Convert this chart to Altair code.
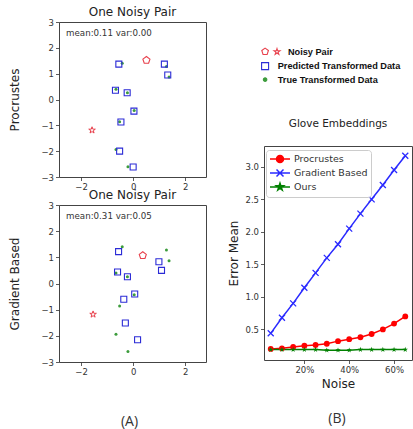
import altair as alt
import pandas as pd

# ---------------- data ----------------
# true transformed points (shared by both panels)
true_x = [-0.42, 1.28, 1.38, -0.66, -0.22, 0.04, -0.52, -0.66, -0.20]
true_y = [1.40, 1.28, 0.87, 0.40, 0.26, -0.43, -0.86, -1.94, -2.60]

# predicted transformed points
proc_pred_x = [-0.55, 1.20, 1.33, -0.68, -0.23, 0.03, -0.47, -0.52, 0.00]
proc_pred_y = [1.37, 1.37, 0.95, 0.36, 0.26, -0.45, -0.87, -2.00, -2.61]
grad_pred_x = [-0.56, 0.99, 1.09, -0.60, -0.22, 0.06, -0.36, -0.30, 0.17]
grad_pred_y = [1.22, 0.83, 0.50, 0.44, 0.26, -0.40, -0.60, -1.51, -2.15]

# noisy pair: [predicted (pentagon), source (star)]
proc_noisy_x = [0.51, -1.58]
proc_noisy_y = [1.52, -1.19]
grad_noisy_x = [0.37, -1.54]
grad_noisy_y = [1.07, -1.18]

proc_stat = "mean:0.11 var:0.00"
grad_stat = "mean:0.31 var:0.05"

# error mean vs noise
noise = [5, 10, 15, 20, 25, 30, 35, 40, 45, 50, 55, 60, 65]
procrustes_err = [0.20, 0.21, 0.23, 0.25, 0.26, 0.28, 0.32, 0.35, 0.38, 0.43, 0.50, 0.59, 0.70]
gradient_err = [0.44, 0.68, 0.90, 1.14, 1.37, 1.60, 1.81, 2.05, 2.28, 2.50, 2.72, 2.95, 3.17]
ours_err = [0.19, 0.19, 0.19, 0.19, 0.19, 0.18, 0.18, 0.18, 0.19, 0.19, 0.19, 0.19, 0.19]

methods = ["Procrustes", "Gradient Based", "Ours"]
# the first entry carries two glyphs, so its label is pushed right
kinds = ["\u200b\u00a0\u00a0\u00a0\u00a0Noisy Pair", "Predicted Transformed Data", "True Transformed Data"]

# ---------------- styles ----------------
RED = "#e8404c"
BLUE = "#2b2bd6"
GREEN = "#3c9c3c"
LINE_COLORS = ["#ff0000", "#2a2aff", "#008000"]


def fmt(v):
    return f"{v:.3f}".rstrip("0").rstrip(".")


def star_path(cx=0.0, cy=0.0, r=1.0):
    import math
    pts = []
    for k in range(10):
        ang = math.radians(-90 + 36 * k)
        rr = r if k % 2 == 0 else r * 0.382
        pts.append((cx + rr * math.cos(ang), cy + rr * math.sin(ang)))
    return "M" + "L".join(f"{fmt(x)},{fmt(y)}" for x, y in pts) + "Z"


def pent_path(cx=0.0, cy=0.0, r=1.0):
    import math
    pts = []
    for k in range(5):
        ang = math.radians(-90 + 72 * k)
        pts.append((cx + r * math.cos(ang), cy + r * math.sin(ang)))
    return "M" + "L".join(f"{fmt(x)},{fmt(y)}" for x, y in pts) + "Z"


def circle_path(cx, r):
    return (f"M{fmt(cx - r)},0A{fmt(r)},{fmt(r)},0,1,0,{fmt(cx + r)},0"
            f"A{fmt(r)},{fmt(r)},0,1,0,{fmt(cx - r)},0Z")


PENT = pent_path()
STAR = star_path()
XMARK = "M-1,-1L1,1M-1,1L1,-1"

# legend glyphs for the scatter legend
NOISY_SYM = pent_path() + star_path(3.4, 0.05, 0.9)
SQUARE_SYM = "M-1,-1L1,-1L1,1L-1,1Z"
DOT_SYM = circle_path(0, 0.5)

# legend glyphs for the line chart (line segment + marker)
LEG_CIRCLE = "M-2,0L2,0" + circle_path(0, 0.7)
LEG_X = "M-2,0L2,0M-0.7,-0.7L0.7,0.7M-0.7,0.7L0.7,-0.7"
LEG_STAR = "M-2,0L2,0" + star_path(0, 0, 0.75)

X_SCALE = alt.Scale(domain=[-2.85, 2.8], nice=False, zero=False)
Y_SCALE = alt.Scale(domain=[-3, 3], nice=False, zero=False)

true_df = pd.DataFrame({"x": true_x, "y": true_y})


def scatter_panel(pred_x, pred_y, nx, ny, stat, ytitle, x_axis, height):
    pred_df = pd.DataFrame({"x": pred_x, "y": pred_y})
    pent_df = pd.DataFrame({"x": nx[:1], "y": ny[:1]})
    star_df = pd.DataFrame({"x": nx[1:], "y": ny[1:]})
    stat_df = pd.DataFrame({"stat": [stat]})

    y_axis = alt.Axis(values=[-3, -2, -1, 0, 1, 2, 3], title=ytitle, titlePadding=19)
    xenc = alt.X("x:Q", scale=X_SCALE, axis=x_axis)
    yenc = alt.Y("y:Q", scale=Y_SCALE, axis=y_axis)

    true_layer = alt.Chart(true_df).mark_circle(size=9, color=GREEN, opacity=1).encode(x=xenc, y=yenc)
    pred_layer = alt.Chart(pred_df).mark_point(
        shape="square", size=36, filled=False, color=BLUE, strokeWidth=1.1, opacity=1
    ).encode(x=xenc, y=yenc)
    pent_layer = alt.Chart(pent_df).mark_point(
        shape=PENT, size=55, filled=False, color=RED, strokeWidth=1.1, opacity=1
    ).encode(x=xenc, y=yenc)
    star_layer = alt.Chart(star_df).mark_point(
        shape=STAR, size=48, filled=False, color=RED, strokeWidth=1.0, opacity=1
    ).encode(x=xenc, y=yenc)
    stat_layer = alt.Chart(stat_df).mark_text(
        align="left", baseline="middle", font="DejaVu Sans", fontSize=8.7, color="#333"
    ).encode(x=alt.value(7), y=alt.value(11), text="stat:N")

    return alt.layer(true_layer, pred_layer, pent_layer, star_layer, stat_layer).properties(
        width=147, height=height,
        title=alt.TitleParams("One Noisy Pair", fontSize=12, offset=-1),
    )


top_panel = scatter_panel(
    proc_pred_x, proc_pred_y, proc_noisy_x, proc_noisy_y, proc_stat, "Procrustes",
    alt.Axis(values=[-2, 0, 2], title=None), 155,
)
bottom_panel = scatter_panel(
    grad_pred_x, grad_pred_y, grad_noisy_x, grad_noisy_y, grad_stat, "Gradient Based",
    alt.Axis(values=[-2, 0, 2], title="(A)", titleFont="Open Sans", titleFontSize=14,
             titleColor="#333", titlePadding=38, titleX=70),
    157,
)

left_col = alt.vconcat(top_panel, bottom_panel, spacing=28, bounds="flush")

# ---------------- scatter legend ----------------
kinds_df = pd.DataFrame({"kind": kinds})
kind_legend = alt.Legend(
    title=None, orient="none", legendX=-3.5, legendY=25, padding=0,
    symbolSize=49, symbolStrokeWidth=1.1, rowPadding=2.5, labelOffset=8,
    labelFont="Liberation Sans", labelFontSize=9.2, labelFontWeight="bold", labelColor="#111",
)
legend_view = alt.Chart(kinds_df).mark_point(opacity=1).encode(
    shape=alt.Shape("kind:N", scale=alt.Scale(domain=kinds, range=[NOISY_SYM, SQUARE_SYM, DOT_SYM]),
                    legend=kind_legend),
    stroke=alt.Stroke("kind:N", scale=alt.Scale(domain=kinds, range=[RED, BLUE, GREEN]),
                      legend=kind_legend),
    fill=alt.Fill("kind:N", scale=alt.Scale(domain=kinds, range=["transparent", "transparent", GREEN]),
                  legend=kind_legend),
).transform_filter("false").properties(
    width=148, height=80, view=alt.ViewBackground(stroke="transparent")
)

# ---------------- error curves ----------------
err_df = pd.DataFrame({
    "noise": noise * 3,
    "err": procrustes_err + gradient_err + ours_err,
    "method": [methods[0]] * len(noise) + [methods[1]] * len(noise) + [methods[2]] * len(noise),
})

nx_enc = alt.X("noise:Q", scale=alt.Scale(domain=[2, 68], nice=False, zero=False),
               axis=alt.Axis(values=[20, 40, 60], labelExpr="datum.value + '%'",
                             title="Noise", titlePadding=4))
ny_enc = alt.Y("err:Q", scale=alt.Scale(domain=[0.03, 3.32], nice=False, zero=False),
               axis=alt.Axis(values=[0.5, 1.0, 1.5, 2.0, 2.5, 3.0], format=".1f",
                             title="Error Mean", titlePadding=4))

lines = alt.Chart(err_df).mark_line(strokeWidth=1.5).encode(
    x=nx_enc, y=ny_enc,
    color=alt.Color("method:N", scale=alt.Scale(domain=methods, range=LINE_COLORS), legend=None),
)
pts_red = alt.Chart(err_df).transform_filter(alt.datum.method == methods[0]).mark_point(
    shape="circle", size=34, filled=True, color=LINE_COLORS[0], opacity=1
).encode(x=nx_enc, y=ny_enc)
pts_blue = alt.Chart(err_df).transform_filter(alt.datum.method == methods[1]).mark_point(
    shape=XMARK, size=36, filled=False, color=LINE_COLORS[1], strokeWidth=1.3, opacity=1
).encode(x=nx_enc, y=ny_enc)
pts_green = alt.Chart(err_df).transform_filter(alt.datum.method == methods[2]).mark_point(
    shape=STAR, size=32, filled=True, color=LINE_COLORS[2], opacity=1
).encode(x=nx_enc, y=ny_enc)

method_legend = alt.Legend(
    title=None, orient="none", legendX=2, legendY=4, padding=3,
    symbolSize=100, symbolStrokeWidth=1.5, symbolOffset=5, rowPadding=0, labelOffset=8,
    labelFont="DejaVu Sans", labelFontSize=9.5, labelColor="#333",
    strokeColor="#cccccc", fillColor="rgba(255,255,255,0.85)", cornerRadius=3,
)
method_df = pd.DataFrame({"method": methods})
legend_layer = alt.Chart(method_df).mark_point(opacity=1).encode(
    shape=alt.Shape("method:N", scale=alt.Scale(domain=methods, range=[LEG_CIRCLE, LEG_X, LEG_STAR]),
                    legend=method_legend),
    stroke=alt.Stroke("method:N", scale=alt.Scale(domain=methods, range=LINE_COLORS),
                      legend=method_legend),
    fill=alt.Fill("method:N", scale=alt.Scale(domain=methods, range=[LINE_COLORS[0], "transparent", LINE_COLORS[2]]),
                  legend=method_legend),
).transform_filter("false")

line_chart = alt.layer(lines, pts_red, pts_blue, pts_green, legend_layer).properties(
    width=148, height=214,
    title=alt.TitleParams("Glove Embeddings", fontSize=10.5, offset=17),
)

INDEP = dict(shape="independent", stroke="independent", fill="independent")

right_col = alt.vconcat(
    legend_view, line_chart, spacing=44, bounds="flush",
    title=alt.TitleParams("(B)", orient="bottom", font="Open Sans", fontSize=14,
                          color="#333", offset=22, anchor="middle", dx=17),
).resolve_scale(**INDEP).resolve_legend(**INDEP)

chart = alt.hconcat(left_col, right_col, spacing=20).resolve_scale(**INDEP).resolve_legend(
    **INDEP
).properties(
    padding={"left": 8, "top": 5, "right": 0, "bottom": 6}
).configure_view(
    stroke="#444", strokeWidth=1
).configure_axis(
    grid=False, domain=False, tickSize=3.5, tickColor="#333", tickWidth=0.8,
    labelFont="DejaVu Sans", labelFontSize=8.5, labelColor="#333", labelPadding=2,
    titleFont="DejaVu Sans", titleFontSize=12, titleFontWeight="normal", titleColor="#222",
).configure_title(
    font="DejaVu Sans", fontWeight="normal", color="#222"
)

chart.save("out.html", embed_options={"renderer": "svg", "actions": False})
